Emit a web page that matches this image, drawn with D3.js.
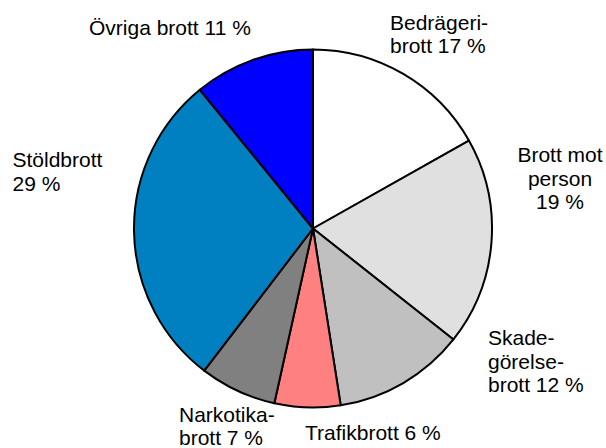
<!DOCTYPE html>
<html>
<head>
<meta charset="utf-8">
<script src="https://cdn.jsdelivr.net/npm/d3@7"></script>
<style>
html,body{margin:0;padding:0;background:#fff;}
text{font-family:Arial,"Liberation Sans",sans-serif;font-size:21px;fill:#000;}
</style>
</head>
<body>
<svg id="chart" width="606" height="448"></svg>
<script>
const categories = ["Bedrägeribrott","Brott mot person","Skadegörelsebrott","Trafikbrott","Narkotikabrott","Stöldbrott","Övriga brott"];
const values = [17, 19, 12, 6, 7, 29, 11];
const colors = ["#ffffff","#e0e0e0","#c0c0c0","#ff8080","#808080","#0080c0","#0000ff"];
const labelLines = [
  ["Bedrägeri-","brott 17 %"],
  ["Brott mot","person","19 %"],
  ["Skade-","görelse-","brott 12 %"],
  ["Trafikbrott 6 %"],
  ["Narkotika-","brott 7 %"],
  ["Stöldbrott","29 %"],
  ["Övriga brott 11 %"]
];
const labelPos = [
  {x:390,y:29.5,anchor:"start"},
  {x:560,y:162,anchor:"middle"},
  {x:488,y:345,anchor:"start"},
  {x:305,y:440,anchor:"start"},
  {x:179,y:421.5,anchor:"start"},
  {x:12.5,y:167,anchor:"start"},
  {x:89,y:35,anchor:"start"}
];

const svg = d3.select("#chart");
const cx = 313, cy = 228.5, r = 179;
const data = categories.map((c,i)=>({cat:c, value:values[i], i}));
const pie = d3.pie().sort(null).value(d=>d.value).startAngle(0).endAngle(2*Math.PI);
const arc = d3.arc().innerRadius(0).outerRadius(r);
const g = svg.append("g").attr("transform",`translate(${cx},${cy})`);
g.selectAll("path").data(pie(data)).join("path")
  .attr("d",arc)
  .attr("fill",d=>colors[d.data.i])
  .attr("stroke","#000")
  .attr("stroke-width",2)
  .attr("stroke-linejoin","round");

const lh = 23.6;
labelLines.forEach((lines,i)=>{
  const p = labelPos[i];
  const t = svg.append("text").attr("text-anchor",p.anchor);
  lines.forEach((ln,j)=>{
    t.append("tspan").attr("x",p.x).attr("y",p.y + j*lh).text(ln);
  });
});
</script>
</body>
</html>
